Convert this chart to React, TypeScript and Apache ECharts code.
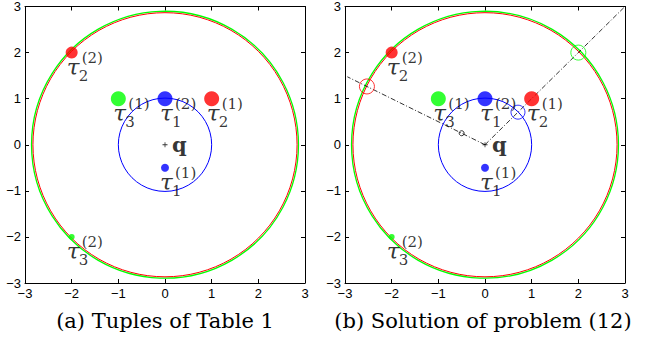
import React, { useEffect, useRef } from "react";
import * as echarts from "echarts";

// ---- data ----
const AXIS_TICKS = [-3, -2, -1, 0, 1, 2, 3];
const tupleX = [0, 0, 1, -2, -1, -2];
const tupleY = [-0.5, 1, 1, 2, 1, -2];
const tauSub = ["1", "1", "2", "2", "3", "3"];
const tupleSup = ["(1)", "(2)", "(1)", "(2)", "(1)", "(2)"];
const tupleGroup = [0, 0, 1, 1, 2, 2]; // tau index - 1
const queryPoint = [0, 0];
const queryLabel = "q";
// rings: [cx, cy, r]
const blueRing = [0, 0, 1];
const redRing = [0, 0, 2.83];
const greenRing = [0, 0, 2.86];
// panel (b) extras
const rayA = [[0, 0], [3, 3]];
const rayB = [[0, 0], [-2.95, 1.475]];
const solBlue = [0.707, 0.707];
const solGreen = [2, 2];
const solRed = [-2.53, 1.265];
const solSmall = [-0.5, 0.25];
const captions = ["(a) Tuples of Table 1", "(b) Solution of problem (12)"];

// ---- styles ----
const groupColors = ["#0000ff", "#ff0000", "#00ff00"];
const tupleSize = [8, 15, 15, 12, 15, 6];
const GRID_LEFT = [25, 345];
const GRID_TOP = 3;
const GRID_SIZE = 280;
const CAPTION_X = [165, 483];
const SERIF = "DejaVu Serif";

function ringSeries(ring: number[], color: string, xi: number, width = 1) {
  return {
    type: "custom",
    xAxisIndex: xi,
    yAxisIndex: xi,
    silent: true,
    clip: false,
    data: [ring],
    renderItem: (_p: any, api: any) => {
      const c = api.coord([api.value(0), api.value(1)]);
      const r = api.size([api.value(2), 0])[0];
      return {
        type: "circle",
        shape: { cx: c[0], cy: c[1], r },
        style: { fill: "none", stroke: color, lineWidth: width },
      };
    },
  };
}

function labelSeries(xi: number, fmt: (i: number) => string, font: any, offset: number[]) {
  return {
    type: "scatter",
    xAxisIndex: xi,
    yAxisIndex: xi,
    silent: true,
    symbolSize: 1,
    itemStyle: { color: "transparent" },
    data: tupleX.map((x, i) => [x, tupleY[i]]),
    label: {
      show: true,
      position: "inside",
      align: "left",
      verticalAlign: "middle",
      offset,
      color: "#000",
      formatter: (p: any) => fmt(p.dataIndex),
      ...font,
    },
    z: 10,
  };
}

function panelSeries(xi: number, withSolution: boolean) {
  const s: any[] = [];
  s.push(ringSeries(greenRing, "#00ff00", xi, 1.3));
  s.push(ringSeries(redRing, "#ff0000", xi, 1));
  s.push(ringSeries(blueRing, "#0000ff", xi, 1));
  if (withSolution) {
    for (const ray of [rayA, rayB]) {
      s.push({
        type: "line",
        xAxisIndex: xi,
        yAxisIndex: xi,
        silent: true,
        symbol: "none",
        data: ray,
        lineStyle: { color: "#000", width: 0.8, type: [5, 2, 1, 2] },
        z: 3,
      });
    }
    const open = [
      { p: solBlue, c: "#0000ff", size: 14 },
      { p: solGreen, c: "#00ff00", size: 15 },
      { p: solRed, c: "#ff0000", size: 15 },
      { p: solSmall, c: "#000000", size: 5 },
    ];
    s.push({
      type: "scatter",
      xAxisIndex: xi,
      yAxisIndex: xi,
      silent: true,
      symbol: "circle",
      data: open.map((o) => ({
        value: o.p,
        symbolSize: o.size,
        itemStyle: { color: "transparent", borderColor: o.c, borderWidth: 1 },
      })),
      z: 4,
    });
  }
  // filled tuple markers
  s.push({
    type: "scatter",
    xAxisIndex: xi,
    yAxisIndex: xi,
    silent: true,
    symbol: "circle",
    data: tupleX.map((x, i) => ({
      value: [x, tupleY[i]],
      symbolSize: tupleSize[i],
      itemStyle: { color: groupColors[tupleGroup[i]] },
    })),
    z: 5,
  });
  // query point
  s.push({
    type: "scatter",
    xAxisIndex: xi,
    yAxisIndex: xi,
    silent: true,
    symbol: "path://M-0.5,-3H0.5V-0.5H3V0.5H0.5V3H-0.5V0.5H-3V-0.5H-0.5Z",
    symbolSize: 5,
    itemStyle: { color: "#000" },
    data: [queryPoint],
    label: {
      show: true,
      position: "inside",
      align: "left",
      verticalAlign: "middle",
      offset: [7, 0],
      formatter: queryLabel,
      color: "#000",
      fontFamily: SERIF,
      fontWeight: "bold",
      fontSize: 21,
    },
    z: 6,
  });
  s.push(labelSeries(xi, () => "τ", { fontFamily: SERIF, fontStyle: "italic", fontSize: 23 }, [-5, 14]));
  s.push(labelSeries(xi, (i) => tauSub[i], { fontFamily: SERIF, fontSize: 15 }, [7, 23]));
  s.push(labelSeries(xi, (i) => tupleSup[i], { fontFamily: SERIF, fontSize: 15 }, [10, 5]));
  return s;
}

const tickFmt = (v: number) => String(v).replace("-", "\u2212");

function axisBase(extra: any) {
  return {
    type: "value",
    min: AXIS_TICKS[0],
    max: AXIS_TICKS[AXIS_TICKS.length - 1],
    interval: 1,
    axisLine: { show: true, onZero: false, lineStyle: { color: "#000", width: 1 } },
    axisTick: { show: true, inside: true, length: 4, lineStyle: { color: "#000" } },
    splitLine: { show: false },
    ...extra,
  };
}

const labelOn = {
  show: true,
  color: "#000",
  fontFamily: "Liberation Sans",
  fontSize: 13,
  margin: 4,
  formatter: tickFmt,
};

export default function App() {
  const ref = useRef<HTMLDivElement>(null);
  useEffect(() => {
    const chart = echarts.init(ref.current!, null, { renderer: "svg" });
    const xAxis: any[] = [];
    const yAxis: any[] = [];
    [0, 1].forEach((g) => {
      xAxis.push(axisBase({ gridIndex: g, position: "bottom", axisLabel: labelOn }));
      xAxis.push(axisBase({ gridIndex: g, position: "top", axisLabel: { show: false } }));
      yAxis.push(axisBase({ gridIndex: g, position: "left", axisLabel: labelOn }));
      yAxis.push(axisBase({ gridIndex: g, position: "right", axisLabel: { show: false } }));
    });
    chart.setOption({
      animation: false,
      backgroundColor: "#fff",
      grid: GRID_LEFT.map((l) => ({
        left: l,
        top: GRID_TOP,
        width: GRID_SIZE,
        height: GRID_SIZE,
        containLabel: false,
      })),
      xAxis,
      yAxis,
      series: [...panelSeries(0, false), ...panelSeries(2, true)],
      graphic: captions.map((t, i) => ({
        type: "text",
        x: CAPTION_X[i],
        y: 321,
        style: {
          text: t,
          fontFamily: "DejaVu Serif",
          fontSize: 21,
          fill: "#000",
          align: "center",
          verticalAlign: "middle",
        },
      })),
    });
    return () => chart.dispose();
  }, []);
  return (
    <div
      ref={ref}
      style={{ position: "fixed", left: 0, top: 0, width: 649, height: 338 }}
    />
  );
}
